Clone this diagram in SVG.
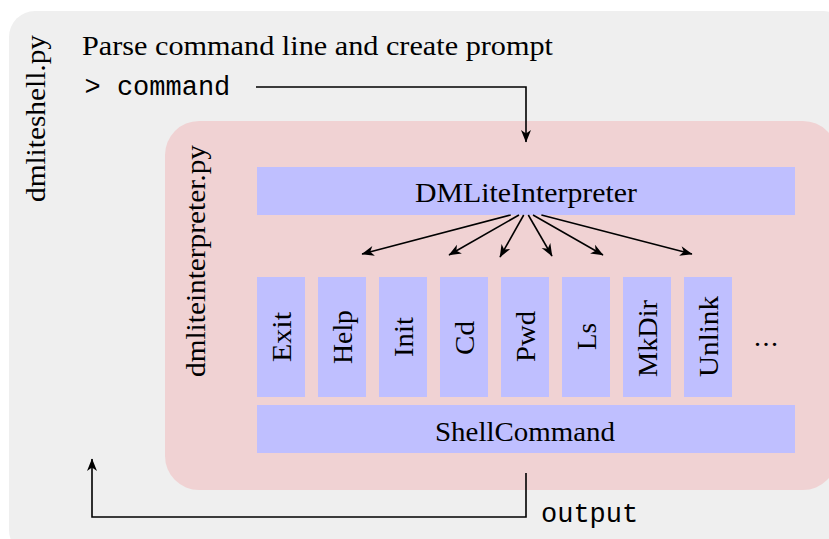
<svg xmlns="http://www.w3.org/2000/svg" width="829" height="539" viewBox="0 0 829 539">
<style>
.serif{font-family:"Liberation Serif","DejaVu Serif",serif;font-size:28px;fill:#000}
.mono{font-family:"Liberation Mono","DejaVu Sans Mono",monospace;font-size:27px;fill:#000}
.blue{fill:#bfbfff}
.conn{fill:none;stroke:#000;stroke-width:1.6}
</style>
<defs>
<marker id="ah" markerWidth="14" markerHeight="12" viewBox="-13 -6 14 12" refX="0" refY="0" orient="auto" markerUnits="userSpaceOnUse">
<path d="M0.5,0 L-12,-5 L-8.5,0 L-12,5 Z" fill="#000"/>
</marker>
</defs>
<g id="dmliteshell">
<rect x="9" y="11" width="840" height="545" rx="26" fill="#efefef"/>
<text class="serif" transform="translate(45,118.5) rotate(-90)" text-anchor="middle" textLength="167" lengthAdjust="spacingAndGlyphs">dmliteshell.py</text>
<text class="serif" x="82" y="55" textLength="471" lengthAdjust="spacingAndGlyphs">Parse command line and create prompt</text>
<text class="mono" x="84.5" y="95" xml:space="preserve">&gt; command</text>
<text class="mono" x="541" y="522">output</text>
</g>
<g id="dmliteinterpreter">
<rect x="165" y="121" width="672" height="369" rx="34" fill="#f0d2d3"/>
<text class="serif" transform="translate(205,261) rotate(-90)" text-anchor="middle" textLength="232" lengthAdjust="spacingAndGlyphs">dmliteinterpreter.py</text>
</g>
<g id="DMLiteInterpreter">
<rect class="blue" x="257" y="167" width="538" height="48"/>
<text class="serif" x="526" y="202" text-anchor="middle" textLength="222" lengthAdjust="spacingAndGlyphs">DMLiteInterpreter</text>
</g>
<g id="Exit">
<rect class="blue" x="257" y="277" width="48" height="120"/>
<text class="serif" transform="translate(290.5,337) rotate(-90)" text-anchor="middle" textLength="50" lengthAdjust="spacingAndGlyphs">Exit</text>
</g>
<g id="Help">
<rect class="blue" x="318" y="277" width="48" height="120"/>
<text class="serif" transform="translate(351.5,337) rotate(-90)" text-anchor="middle" textLength="54" lengthAdjust="spacingAndGlyphs">Help</text>
</g>
<g id="Init">
<rect class="blue" x="379" y="277" width="48" height="120"/>
<text class="serif" transform="translate(412.5,337) rotate(-90)" text-anchor="middle" textLength="40" lengthAdjust="spacingAndGlyphs">Init</text>
</g>
<g id="Cd">
<rect class="blue" x="440" y="277" width="48" height="120"/>
<text class="serif" transform="translate(473.5,338) rotate(-90)" text-anchor="middle" textLength="34" lengthAdjust="spacingAndGlyphs">Cd</text>
</g>
<g id="Pwd">
<rect class="blue" x="501" y="277" width="48" height="120"/>
<text class="serif" transform="translate(534.5,336.5) rotate(-90)" text-anchor="middle" textLength="51" lengthAdjust="spacingAndGlyphs">Pwd</text>
</g>
<g id="Ls">
<rect class="blue" x="562" y="277" width="48" height="120"/>
<text class="serif" transform="translate(595.5,336.5) rotate(-90)" text-anchor="middle" textLength="27" lengthAdjust="spacingAndGlyphs">Ls</text>
</g>
<g id="MkDir">
<rect class="blue" x="623" y="277" width="48" height="120"/>
<text class="serif" transform="translate(656.5,338.5) rotate(-90)" text-anchor="middle" textLength="77" lengthAdjust="spacingAndGlyphs">MkDir</text>
</g>
<g id="Unlink">
<rect class="blue" x="684" y="277" width="48" height="120"/>
<text class="serif" transform="translate(717.5,336.5) rotate(-90)" text-anchor="middle" textLength="81" lengthAdjust="spacingAndGlyphs">Unlink</text>
</g>
<g id="more">
<text class="serif" x="766" y="346" text-anchor="middle" textLength="24" lengthAdjust="spacing">...</text>
</g>
<g id="ShellCommand">
<rect class="blue" x="257" y="405" width="538" height="48"/>
<text class="serif" x="525" y="441" text-anchor="middle" textLength="180" lengthAdjust="spacingAndGlyphs">ShellCommand</text>
</g>
<g id="connectors">
<path class="conn" d="M256,87 H526 V142" marker-end="url(#ah)"/>
<path class="conn" d="M526,473 V517 H92 V459" marker-end="url(#ah)"/>
<path class="conn" d="M510.7,215 L362,254" marker-end="url(#ah)"/>
<path class="conn" d="M519,215 L449,255" marker-end="url(#ah)"/>
<path class="conn" d="M523.7,215 L500,257" marker-end="url(#ah)"/>
<path class="conn" d="M528.3,215 L552,256" marker-end="url(#ah)"/>
<path class="conn" d="M533,215 L603,255" marker-end="url(#ah)"/>
<path class="conn" d="M541.4,215 L692,254" marker-end="url(#ah)"/>
</g>
</svg>
